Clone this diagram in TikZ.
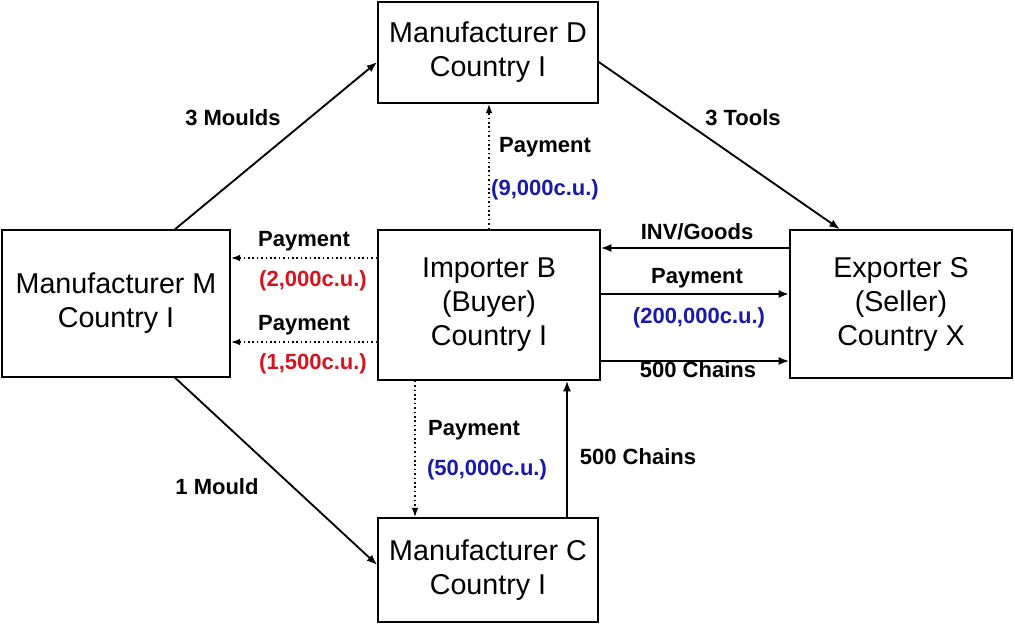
\documentclass[tikz,border=0pt]{standalone}
\usepackage{fontspec}
\setmainfont{Liberation Sans}
\usepackage{xcolor}
\usetikzlibrary{arrows.meta}
\definecolor{payblue}{RGB}{25,25,170}
\definecolor{payred}{RGB}{215,20,30}
\begin{document}
\begin{tikzpicture}[x=0.75pt,y=-0.75pt,
  party/.style={draw,line width=1.1pt,align=center,font=\fontsize{21.5}{25.5}\selectfont,inner sep=0pt},
  lbl/.style={font=\fontsize{16.5}{19}\selectfont\bfseries},
  flow/.style={line width=1.4pt,-{Latex[length=8pt,width=6pt]}},
  pay/.style={line width=1.3pt,dotted,-{Latex[length=7pt,width=5pt]}}]
  \useasboundingbox (0,0) rectangle (1015,624);
  \node[party,minimum width=165pt,minimum height=75.75pt] (D) at (488,52.5) {Manufacturer D\\Country I};
  \node[party,minimum width=171pt,minimum height=110.25pt] (M) at (116,303.5) {Manufacturer M\\Country I};
  \node[party,minimum width=166.5pt,minimum height=112.5pt] (B) at (489,305) {Importer B\\(Buyer)\\Country I};
  \node[party,minimum width=166.5pt,minimum height=111pt] (S) at (901,304) {Exporter S\\(Seller)\\Country X};
  \node[party,minimum width=165pt,minimum height=78pt] (C) at (488,570) {Manufacturer C\\Country I};
  % goods
  \draw[flow] ([xshift=44.25pt]M.north) -- ([yshift=-7.1pt]D.west);
  \draw[flow] ([yshift=-7.1pt]D.east) -- ([xshift=-45.75pt]S.north);
  \draw[flow] ([xshift=44.25pt]M.south) -- ([yshift=3.75pt]C.west);
  \draw[flow] ([xshift=59.25pt]C.north) -- ([xshift=59.25pt]C.north |- B.south);
  \draw[flow] ([yshift=42pt]S.west) -- ([yshift=42pt]S.west -| B.east);
  \draw[flow] ([yshift=-42pt]B.east) -- ([yshift=-42pt]B.east -| S.west);
  \draw[flow,line width=2.2pt] ([yshift=8.25pt]B.east) -- ([yshift=8.25pt]B.east -| S.west);
  % payments
  \draw[pay] (B.north) -- (B.north |- D.south);
  \draw[pay] ([yshift=35.25pt]B.west) -- ([yshift=35.25pt]B.west -| M.east);
  \draw[pay] ([yshift=-27.75pt]B.west) -- ([yshift=-27.75pt]B.west -| M.east);
  \draw[pay] ([xshift=-55.5pt]B.south) -- ([xshift=-55.5pt]B.south |- C.north);
  % labels
  \node[lbl] (mouldsD) at (233,118) {3 Moulds};
  \node[lbl] (toolsS) at (743,118) {3 Tools};
  \node[lbl] (mouldC) at (217,487) {1 Mould};
  \node[lbl] (chainsB) at (638,457) {500 Chains};
  \node[lbl] (chainsS) at (698,370) {500 Chains};
  \node[lbl] (invS) at (697,232) {INV/Goods};
  \node[lbl] (payD) at (545,147) {Payment}; \node[lbl,payblue] (amtD) at (545,190) {(9,000c.u.)};
  \node[lbl] (payM1) at (304,241) {Payment}; \node[lbl,payred] (amtM1) at (313,281) {(2,000c.u.)};
  \node[lbl] (payM2) at (304,325) {Payment}; \node[lbl,payred] (amtM2) at (313,364) {(1,500c.u.)};
  \node[lbl] (payS) at (697,278) {Payment}; \node[lbl,payblue] (amtS) at (699,318) {(200,000c.u.)};
  \node[lbl] (payC) at (474,430) {Payment}; \node[lbl,payblue] (amtC) at (487,470) {(50,000c.u.)};
\end{tikzpicture}
\end{document}
